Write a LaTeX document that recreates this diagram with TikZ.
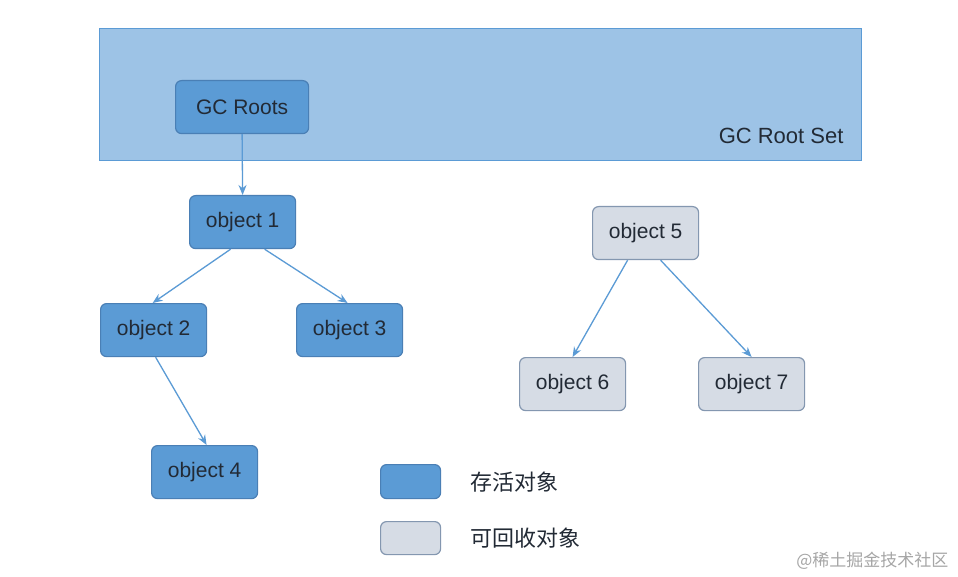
\documentclass[tikz,border=0pt]{standalone}
\usepackage{fontspec}
\setmainfont{Liberation Sans}
\newfontfamily\cjk{Noto Sans CJK SC}
\usetikzlibrary{arrows.meta}
\definecolor{live}{HTML}{5B9BD5}
\definecolor{liveb}{HTML}{4A7FB5}
\definecolor{dead}{HTML}{D6DCE5}
\definecolor{deadb}{HTML}{8497B0}
\definecolor{rootset}{HTML}{9DC3E6}
\definecolor{txt}{HTML}{222A35}
\tikzset{
 box/.style={draw, line width=1.2pt, rounded corners=6pt, anchor=north west, font=\fontsize{21}{24}\selectfont, text=txt, inner sep=0},
 alive/.style={box, fill=live, draw=liveb},
 gone/.style={box, fill=dead, draw=deadb},
 arr/.style={draw=live, line width=1.3pt, -{Stealth[length=10pt,width=8pt]}}
}
\begin{document}
\begin{tikzpicture}[x=1pt,y=-1pt]
\useasboundingbox (0,0) rectangle (958,577);
\fill[white] (0,0) rectangle (958,577);
\node[draw=live, fill=rootset, line width=1pt, anchor=north west, minimum width=762, minimum height=132, inner sep=0] (set) at (99,28) {};
\node[anchor=east, font=\fontsize{22}{25}\selectfont, text=txt] (setl) at (847,136) {GC Root Set};
\node[alive, minimum width=133, minimum height=53] (roots) at (175,80) {GC Roots};
\node[alive, minimum width=106, minimum height=53] (o1) at (189,195) {object 1};
\node[alive, minimum width=106, minimum height=53] (o2) at (100,303) {object 2};
\node[alive, minimum width=106, minimum height=53] (o3) at (296,303) {object 3};
\node[alive, minimum width=106, minimum height=53] (o4) at (151,445) {object 4};
\node[gone, minimum width=106, minimum height=53] (o5) at (592,206) {object 5};
\node[gone, minimum width=106, minimum height=53] (o6) at (519,357) {object 6};
\node[gone, minimum width=106, minimum height=53] (o7) at (698,357) {object 7};
\node[alive, minimum width=60, minimum height=34] (l1) at (380,464) {};
\node[gone, minimum width=60, minimum height=33] (l2) at (380,521) {};
\node[anchor=west, font=\cjk\fontsize{22}{25}\selectfont, text=txt, inner sep=0] (t1) at (470,482) {存活对象};
\node[anchor=west, font=\cjk\fontsize{22}{25}\selectfont, text=txt, inner sep=0] (t2) at (470,538) {可回收对象};
\node[anchor=east, font=\cjk\fontsize{17}{19}\selectfont, text=gray!70] (wm) at (952,561) {@稀土掘金技术社区};
\draw[arr] (roots.south) -- (o1.north);
\draw[arr] ([xshift=-12]o1.south) -- ([xshift=-1]o2.north);
\draw[arr] ([xshift=22]o1.south) -- ([xshift=-2]o3.north);
\draw[arr] ([xshift=2]o2.south) -- ([xshift=2]o4.north);
\draw[arr] ([xshift=-18]o5.south) -- (o6.north);
\draw[arr] ([xshift=15]o5.south) -- (o7.north);
\end{tikzpicture}
\end{document}
